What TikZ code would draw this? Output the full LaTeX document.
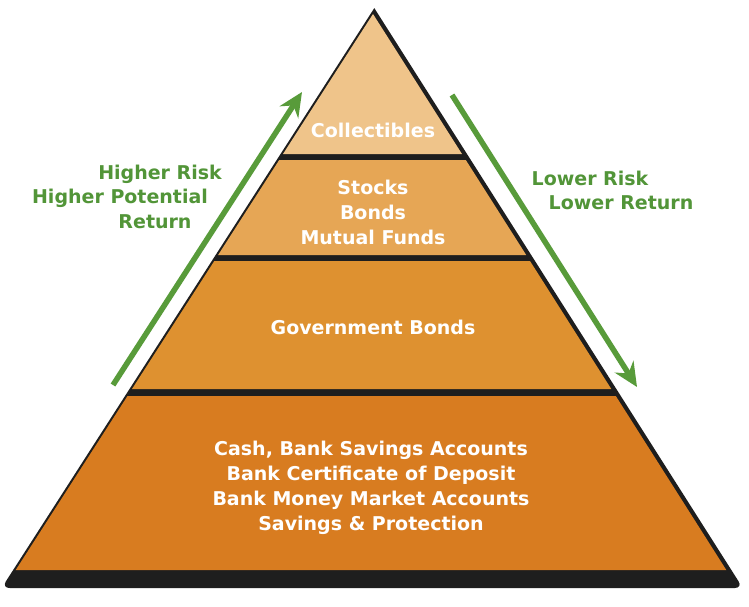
\documentclass[tikz,border=0pt]{standalone}
\usepackage{fontspec}
\setmainfont{DejaVu Sans}
\usetikzlibrary{arrows.meta}
\definecolor{cA}{HTML}{EFC48A}
\definecolor{cB}{HTML}{E6A655}
\definecolor{cC}{HTML}{DE9130}
\definecolor{cD}{HTML}{D87C20}
\definecolor{blk}{HTML}{1E1E1E}
\definecolor{grn}{HTML}{589B3A}
\definecolor{gtxt}{HTML}{529538}
\begin{document}
\begin{tikzpicture}[x=1pt,y=-1pt,
  lbl/.style={text=white,font=\bfseries\fontsize{19}{25}\selectfont,align=center,inner sep=0pt},
  glbl/.style={text=gtxt,font=\bfseries\fontsize{19}{25}\selectfont,anchor=base,inner sep=0pt},
  garrow/.style={draw=grn,line width=5.5pt,-{Stealth[length=24pt,width=22pt,inset=8pt]}}]
\useasboundingbox (0,0) rectangle (749,606);
\fill[white] (0,0) rectangle (749,606);
% pyramid outline / shadow
\fill[blk] (374.3,8.1) [rounded corners=8pt] -- (742.8,588) -- (1.6,588) [sharp corners] -- cycle;
% layers
\fill[cA] (373,14) -- (462,154) -- (283,154) -- cycle;
\fill[cB] (279.2,160) -- (465.8,160) -- (526.2,255) -- (218.1,255) -- cycle;
\fill[cC] (214.3,261) -- (530,261) -- (611.3,389) -- (132,389) -- cycle;
\fill[cD] (127.5,396) -- (615.8,396) -- (726.3,570) -- (15.7,570) -- cycle;
% labels
\node[lbl] (collect) at (373,130) {Collectibles};
\node[lbl] (stocks) at (373,212) {Stocks\\Bonds\\Mutual Funds};
\node[lbl] (gov) at (373,327) {Government Bonds};
\node[lbl] (cash) at (371,488) {Cash, Bank Savings Accounts\\Bank Certificate of Deposit\\Bank Money Market Accounts\\Savings \& Protection};
% side texts
\node[glbl] (hr) at (160,179) {Higher Risk};
\node[glbl] (hp) at (120,203) {Higher Potential};
\node[glbl] (hret) at (155,228) {Return};
\node[glbl] (lr) at (590,185) {Lower Risk};
\node[glbl] (lret) at (621,209) {Lower Return};
% arrows
\coordinate (upS) at (113,385);
\coordinate (upE) at (302,92);
\coordinate (dnS) at (452,95);
\coordinate (dnE) at (637,387);
\draw[garrow] (upS) -- (upE);
\draw[garrow] (dnS) -- (dnE);
\end{tikzpicture}
\end{document}
